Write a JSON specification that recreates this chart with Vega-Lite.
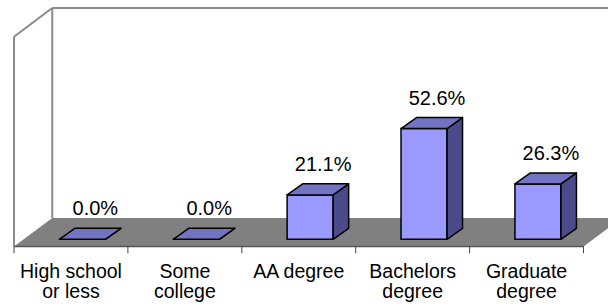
{
  "$schema": "https://vega.github.io/schema/vega-lite/v6.json",
  "width": 608,
  "height": 306,
  "autosize": {"type": "fit", "contains": "padding"},
  "padding": 0,
  "background": "white",
  "config": {"view": {"stroke": null}, "text": {"font": "Liberation Sans"}},
  "data": {"values": [
    {"category": "High school\nor less", "value": 0.0},
    {"category": "Some\ncollege", "value": 0.0},
    {"category": "AA degree", "value": 21.1},
    {"category": "Bachelors\ndegree", "value": 52.6},
    {"category": "Graduate\ndegree", "value": 26.3}
  ]},
  "transform": [
    {"window": [{"op": "row_number", "as": "rn"}]},
    {"calculate": "datum.rn - 1", "as": "i"},
    {"calculate": "datum.i + 0.398", "as": "xl"},
    {"calculate": "datum.i + 0.802", "as": "xr"},
    {"calculate": "format(datum.value, '.1f') + '%'", "as": "label"}
  ],
  "layer": [
    {
      "data": {"values": [{}]},
      "mark": {"type": "rule", "color": "#8a8a8a", "strokeWidth": 2},
      "encoding": {
        "x": {"datum": 0, "type": "quantitative", "scale": {"domain": [-0.1229, 5.2151], "nice": false, "zero": false}, "axis": null},
        "y": {"datum": -3.42, "type": "quantitative", "scale": {"domain": [-31.69, 113.68], "nice": false, "zero": false}, "axis": null},
        "x2": {"datum": 0},
        "y2": {"datum": 96.25}
      }
    },
    {
      "data": {"values": [{}]},
      "mark": {"type": "rule", "color": "#8a8a8a", "strokeWidth": 2},
      "encoding": {
        "x": {"datum": 0, "type": "quantitative"},
        "y": {"datum": 96.25, "type": "quantitative"},
        "x2": {"datum": 0.336},
        "y2": {"datum": 109.88}
      }
    },
    {
      "data": {"values": [{}]},
      "mark": {"type": "rule", "color": "#8a8a8a", "strokeWidth": 2, "clip": true},
      "encoding": {
        "x": {"datum": 0.336, "type": "quantitative"},
        "y": {"datum": 109.88, "type": "quantitative"},
        "x2": {"datum": 5.3},
        "y2": {"datum": 109.88}
      }
    },
    {
      "data": {"values": [{}]},
      "mark": {"type": "rule", "color": "#8a8a8a", "strokeWidth": 2},
      "encoding": {
        "x": {"datum": 0.336, "type": "quantitative"},
        "y": {"datum": 10.12, "type": "quantitative"},
        "x2": {"datum": 0.336},
        "y2": {"datum": 109.88}
      }
    },
    {
      "data": {"values": [{"edge": "front"}, {"edge": "back"}]},
      "transform": [
        {"calculate": "datum.edge == 'front' ? -3.42 : 10.12", "as": "fy"},
        {"calculate": "datum.edge == 'front' ? 0 : 0.336", "as": "fx"},
        {"calculate": "datum.edge == 'front' ? 5 : 5.336", "as": "fx2"}
      ],
      "mark": {"type": "area", "orient": "horizontal", "color": "#808080", "opacity": 1, "clip": true},
      "encoding": {
        "y": {"field": "fy", "type": "quantitative"},
        "x": {"field": "fx", "type": "quantitative", "stack": null},
        "x2": {"field": "fx2"}
      }
    },
    {
      "data": {"values": [{}]},
      "mark": {"type": "rule", "color": "#555555", "strokeWidth": 1.5},
      "encoding": {
        "x": {"datum": 0, "type": "quantitative"},
        "y": {"datum": -3.42, "type": "quantitative"},
        "x2": {"datum": 5},
        "y2": {"datum": -3.42}
      }
    },
    {
      "mark": {"type": "rule", "color": "#444444", "strokeWidth": 1},
      "encoding": {
        "x": {"field": "i", "type": "quantitative"},
        "y": {"datum": -3.42, "type": "quantitative"},
        "y2": {"datum": -6.6}
      }
    },
    {
      "data": {"values": [{}]},
      "mark": {"type": "rule", "color": "#444444", "strokeWidth": 1},
      "encoding": {
        "x": {"datum": 5, "type": "quantitative"},
        "y": {"datum": -3.42, "type": "quantitative"},
        "y2": {"datum": -6.6}
      }
    },
    {
      "mark": {"type": "rect", "fill": "#9999FF", "stroke": "black", "strokeWidth": 1.5},
      "encoding": {
        "x": {"field": "xl", "type": "quantitative"},
        "x2": {"field": "xr"},
        "y": {"field": "value", "type": "quantitative"},
        "y2": {"datum": 0}
      }
    },
    {
      "transform": [
        {"calculate": "[0, 1]", "as": "p"},
        {"flatten": ["p"]},
        {"calculate": "datum.xr + datum.p * 0.136", "as": "sx"},
        {"calculate": "datum.p * 5.23", "as": "sy"},
        {"calculate": "datum.value + datum.p * 5.23", "as": "sy2"}
      ],
      "mark": {"type": "area", "orient": "vertical", "fill": "#4B4B8C", "stroke": "black", "strokeWidth": 1.5, "strokeJoin": "round", "opacity": 1},
      "encoding": {
        "x": {"field": "sx", "type": "quantitative"},
        "y": {"field": "sy2", "type": "quantitative", "stack": null},
        "y2": {"field": "sy"},
        "detail": {"field": "category"}
      }
    },
    {
      "transform": [
        {"calculate": "[0, 1]", "as": "p"},
        {"flatten": ["p"]},
        {"calculate": "datum.value + datum.p * 5.23", "as": "ty"},
        {"calculate": "datum.xl + datum.p * 0.136", "as": "tx"},
        {"calculate": "datum.xr + datum.p * 0.136", "as": "tx2"}
      ],
      "mark": {"type": "area", "orient": "horizontal", "fill": "#7373C4", "stroke": "black", "strokeWidth": 1.5, "strokeJoin": "round", "opacity": 1},
      "encoding": {
        "y": {"field": "ty", "type": "quantitative"},
        "x": {"field": "tx", "type": "quantitative", "stack": null},
        "x2": {"field": "tx2"},
        "detail": {"field": "category"}
      }
    },
    {
      "transform": [{"calculate": "datum.i + 0.714", "as": "lx"}],
      "mark": {"type": "text", "fontSize": 20, "baseline": "alphabetic", "align": "center", "dy": -24, "color": "black"},
      "encoding": {
        "x": {"field": "lx", "type": "quantitative"},
        "y": {"field": "value", "type": "quantitative"},
        "text": {"field": "label"}
      }
    },
    {
      "transform": [{"calculate": "datum.i + 0.5", "as": "cx"}],
      "mark": {"type": "text", "fontSize": 19.5, "baseline": "alphabetic", "align": "center", "lineBreak": "\n", "lineHeight": 20, "color": "black"},
      "encoding": {
        "x": {"field": "cx", "type": "quantitative"},
        "y": {"datum": -18.53, "type": "quantitative"},
        "text": {"field": "category"}
      }
    }
  ]
}
